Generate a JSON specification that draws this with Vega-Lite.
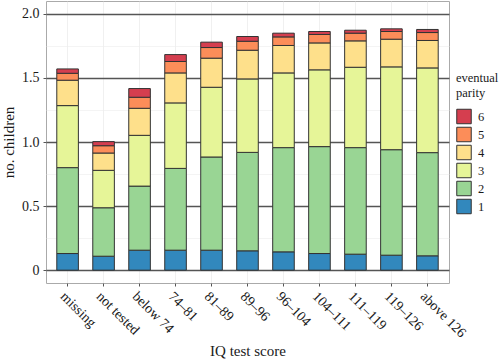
{
  "$schema": "https://vega.github.io/schema/vega-lite/v6.json",
  "width": 403,
  "height": 282,
  "autosize": {"type": "none"},
  "padding": {"left": 46, "top": 1, "right": 51, "bottom": 76},
  "background": "white",
  "config": {
    "font": "Liberation Serif, serif",
    "view": {"stroke": "#aaaaaa", "strokeWidth": 1},
    "axis": {
      "labelFont": "Liberation Serif, serif",
      "titleFont": "Liberation Serif, serif",
      "labelColor": "#1a1a1a",
      "titleColor": "#1a1a1a",
      "titleFontSize": 15,
      "titleFontWeight": "normal",
      "domain": false,
      "tickColor": "#555555",
      "tickSize": 3
    },
    "legend": {
      "labelFont": "Liberation Serif, serif",
      "titleFont": "Liberation Serif, serif"
    }
  },
  "data": {
    "values": [
      {"iq": "missing", "parity": "1", "n": 0.130},
      {"iq": "missing", "parity": "2", "n": 0.670},
      {"iq": "missing", "parity": "3", "n": 0.484},
      {"iq": "missing", "parity": "4", "n": 0.198},
      {"iq": "missing", "parity": "5", "n": 0.054},
      {"iq": "missing", "parity": "6", "n": 0.034},
      {"iq": "not tested", "parity": "1", "n": 0.109},
      {"iq": "not tested", "parity": "2", "n": 0.378},
      {"iq": "not tested", "parity": "3", "n": 0.292},
      {"iq": "not tested", "parity": "4", "n": 0.135},
      {"iq": "not tested", "parity": "5", "n": 0.057},
      {"iq": "not tested", "parity": "6", "n": 0.032},
      {"iq": "below 74", "parity": "1", "n": 0.156},
      {"iq": "below 74", "parity": "2", "n": 0.500},
      {"iq": "below 74", "parity": "3", "n": 0.396},
      {"iq": "below 74", "parity": "4", "n": 0.211},
      {"iq": "below 74", "parity": "5", "n": 0.086},
      {"iq": "below 74", "parity": "6", "n": 0.068},
      {"iq": "74–81", "parity": "1", "n": 0.156},
      {"iq": "74–81", "parity": "2", "n": 0.638},
      {"iq": "74–81", "parity": "3", "n": 0.511},
      {"iq": "74–81", "parity": "4", "n": 0.234},
      {"iq": "74–81", "parity": "5", "n": 0.089},
      {"iq": "74–81", "parity": "6", "n": 0.054},
      {"iq": "81–89", "parity": "1", "n": 0.156},
      {"iq": "81–89", "parity": "2", "n": 0.727},
      {"iq": "81–89", "parity": "3", "n": 0.544},
      {"iq": "81–89", "parity": "4", "n": 0.227},
      {"iq": "81–89", "parity": "5", "n": 0.083},
      {"iq": "81–89", "parity": "6", "n": 0.042},
      {"iq": "89–96", "parity": "1", "n": 0.151},
      {"iq": "89–96", "parity": "2", "n": 0.768},
      {"iq": "89–96", "parity": "3", "n": 0.573},
      {"iq": "89–96", "parity": "4", "n": 0.224},
      {"iq": "89–96", "parity": "5", "n": 0.070},
      {"iq": "89–96", "parity": "6", "n": 0.037},
      {"iq": "96–104", "parity": "1", "n": 0.143},
      {"iq": "96–104", "parity": "2", "n": 0.813},
      {"iq": "96–104", "parity": "3", "n": 0.583},
      {"iq": "96–104", "parity": "4", "n": 0.214},
      {"iq": "96–104", "parity": "5", "n": 0.067},
      {"iq": "96–104", "parity": "6", "n": 0.029},
      {"iq": "104–111", "parity": "1", "n": 0.130},
      {"iq": "104–111", "parity": "2", "n": 0.834},
      {"iq": "104–111", "parity": "3", "n": 0.599},
      {"iq": "104–111", "parity": "4", "n": 0.210},
      {"iq": "104–111", "parity": "5", "n": 0.066},
      {"iq": "104–111", "parity": "6", "n": 0.023},
      {"iq": "111–119", "parity": "1", "n": 0.125},
      {"iq": "111–119", "parity": "2", "n": 0.831},
      {"iq": "111–119", "parity": "3", "n": 0.627},
      {"iq": "111–119", "parity": "4", "n": 0.206},
      {"iq": "111–119", "parity": "5", "n": 0.060},
      {"iq": "111–119", "parity": "6", "n": 0.023},
      {"iq": "119–126", "parity": "1", "n": 0.117},
      {"iq": "119–126", "parity": "2", "n": 0.823},
      {"iq": "119–126", "parity": "3", "n": 0.646},
      {"iq": "119–126", "parity": "4", "n": 0.216},
      {"iq": "119–126", "parity": "5", "n": 0.060},
      {"iq": "119–126", "parity": "6", "n": 0.021},
      {"iq": "above 126", "parity": "1", "n": 0.112},
      {"iq": "above 126", "parity": "2", "n": 0.805},
      {"iq": "above 126", "parity": "3", "n": 0.661},
      {"iq": "above 126", "parity": "4", "n": 0.214},
      {"iq": "above 126", "parity": "5", "n": 0.062},
      {"iq": "above 126", "parity": "6", "n": 0.024}
    ]
  },
  "mark": {"type": "bar", "stroke": "#333333", "strokeWidth": 1},
  "encoding": {
    "x": {
      "field": "iq",
      "type": "nominal",
      "sort": ["missing", "not tested", "below 74", "74–81", "81–89", "89–96", "96–104", "104–111", "111–119", "119–126", "above 126"],
      "scale": {"type": "band", "paddingInner": 0.4, "paddingOuter": 0.3},
      "axis": {
        "title": "IQ test score",
        "labelFont": "Liberation Serif, serif",
        "labelFontSize": 14,
        "labelAngle": 45,
        "labelAlign": "left",
        "labelBaseline": "top",
        "labelPadding": 3,
        "titlePadding": 4,
        "grid": true,
        "gridColor": "#e6e6e6",
        "gridWidth": 0.6,
        "bandPosition": 0.5
      }
    },
    "y": {
      "field": "n",
      "type": "quantitative",
      "stack": "zero",
      "scale": {"domain": [-0.1, 2.1], "nice": false, "zero": false},
      "axis": {
        "title": "no. children",
        "labelFont": "Liberation Serif, serif",
        "labelFontSize": 14,
        "values": [0, 0.25, 0.5, 0.75, 1, 1.25, 1.5, 1.75, 2],
        "labelExpr": "datum.value % 0.5 === 0 ? (datum.value === 0 ? '0' : format(datum.value, '.1f')) : ''",
        "grid": true,
        "gridColor": {"condition": {"test": "datum.value % 0.5 === 0", "value": "#555555"}, "value": "#ececec"},
        "gridWidth": {"condition": {"test": "datum.value % 0.5 === 0", "value": 1.5}, "value": 0.6},
        "tickOpacity": {"condition": {"test": "datum.value % 0.5 === 0", "value": 1}, "value": 0},
        "labelPadding": 4,
        "titlePadding": 5
      }
    },
    "color": {
      "field": "parity",
      "type": "ordinal",
      "scale": {
        "domain": ["6", "5", "4", "3", "2", "1"],
        "range": ["#d53e4f", "#fc8d59", "#fee08b", "#e6f598", "#99d594", "#3288bd"]
      },
      "legend": {
        "orient": "none",
        "legendX": 410,
        "legendY": 71,
        "title": ["eventual", "parity"],
        "titleFontSize": 12.5,
        "titleFontWeight": "normal",
        "titleColor": "#1a1a1a",
        "titleLineHeight": 15,
        "titlePadding": 9,
        "labelFont": "Liberation Serif, serif",
        "labelFontSize": 12.5,
        "labelColor": "#1a1a1a",
        "labelOffset": 6,
        "symbolType": "square",
        "symbolSize": 210,
        "symbolStrokeColor": "#333333",
        "symbolStrokeWidth": 1,
        "symbolOpacity": 1,
        "rowPadding": -4.2
      }
    },
    "order": {"field": "parity", "type": "ordinal", "sort": "ascending"}
  }
}
